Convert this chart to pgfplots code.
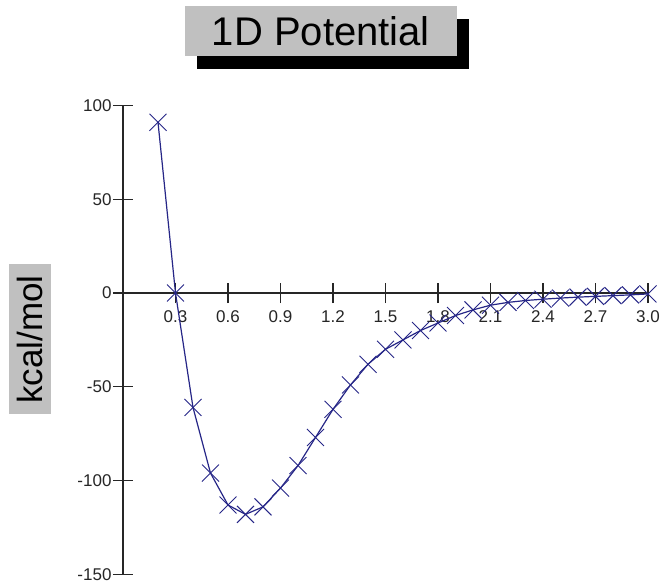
\documentclass[border=0pt]{standalone}
\usepackage{pgfplots}
\pgfplotsset{compat=1.18}
\usepackage{fontspec}
\setmainfont{Liberation Sans}
\usetikzlibrary{shadows}
\definecolor{cnavy}{RGB}{38,38,135}
\definecolor{cbox}{RGB}{192,192,192}
\begin{document}
\begin{tikzpicture}[x=1pt,y=1pt]
\fill[white] (0,0) rectangle (660,581);
\useasboundingbox (0,0) rectangle (660,581);
\begin{axis}[
  at={(123pt,288pt)}, anchor=origin,
  scale only axis, width=525pt, height=469pt,
  xmin=0, xmax=3.0, ymin=-150, ymax=100,
  axis x line=middle, axis y line=left,
  axis line style={-, line width=1.1pt, black!85},
  hide obscured y ticks=false,
  hide obscured x ticks=false,
  tick align=center, major tick length=20pt,
  tick style={line width=1.1pt, black!85},
  xtick={0.3,0.6,0.9,1.2,1.5,1.8,2.1,2.4,2.7,3.0},
  xticklabels={0.3,0.6,0.9,1.2,1.5,1.8,2.1,2.4,2.7,3.0},
  ytick={-150,-100,-50,0,50,100},
  /pgf/number format/assume math mode=true,
  tick label style={font=\fontsize{17}{20}\selectfont, black!85},
  xticklabel style={anchor=north, yshift=-4pt},
  yticklabel style={anchor=east, xshift=2pt},
  title={1D Potential},
  title style={at={(axis description cs:0.377,1.145)}, anchor=center,
    font=\fontsize{40}{46}\selectfont, fill=cbox, inner sep=0pt,
    minimum width=272pt, minimum height=50pt,
    drop shadow={shadow xshift=12pt, shadow yshift=-13pt, opacity=1, fill=black}},
  ylabel={kcal/mol},
  ylabel style={at={(axis description cs:-0.177,0.501)}, anchor=center, rotate=0,
    font=\fontsize{35}{40}\selectfont, fill=cbox, inner sep=0pt,
    minimum width=150pt, minimum height=42pt},
  clip=false,
]
\addplot[cnavy, line width=1.2pt, mark=x, mark size=12pt,
  mark options={line width=0.9pt, cnavy}]
  coordinates {
  (0.2,91) (0.3,0) (0.4,-61) (0.5,-96) (0.6,-113) (0.7,-118) (0.8,-114)
  (0.9,-104) (1.0,-92) (1.1,-77) (1.2,-62) (1.3,-49) (1.4,-38) (1.5,-30)
  (1.6,-25) (1.7,-20) (1.8,-16) (1.9,-12) (2.0,-9) (2.1,-6.5) (2.2,-5)
  (2.3,-4) (2.4,-3.3) (2.5,-2.7) (2.6,-2.2) (2.7,-1.8) (2.8,-1.4) (2.9,-1)
  (3.0,-0.5)};
\end{axis}
\end{tikzpicture}
\end{document}
